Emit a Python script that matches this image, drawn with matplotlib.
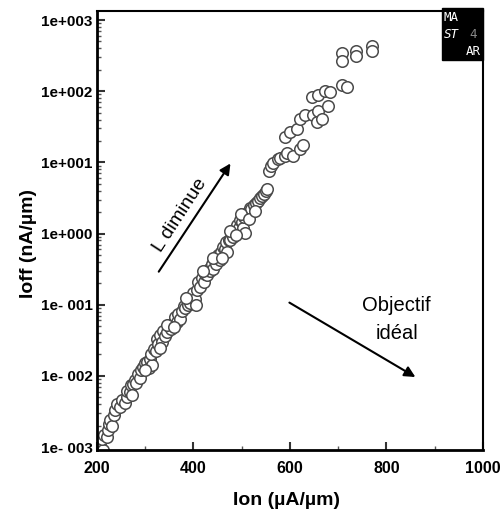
import matplotlib
matplotlib.use('Agg')
import matplotlib.pyplot as plt
import numpy as np
from matplotlib.patches import Rectangle

plt.rcParams['font.family'] = ['Liberation Sans', 'DejaVu Sans']

# Ion (uA/um) and Ioff (nA/um)
ion = [200, 205, 207, 213, 210, 215, 220, 222, 225, 228, 232, 235, 238, 242, 248,
       252, 258, 263, 262, 268, 270, 275, 278, 282, 285, 290, 292, 296, 300, 304,
       307, 310, 315, 313, 318, 322, 325, 327, 331, 334, 338, 342, 346, 350, 353,
       358, 362, 365, 368, 373, 376, 380, 383, 388, 393, 396, 400, 403, 408, 410,
       414, 418, 422, 425, 429, 432, 435, 438, 441, 445, 447, 452, 455, 458, 462,
       466, 468, 470, 473, 476, 480, 482, 486, 490, 494, 497, 500, 503, 505, 507,
       510, 513, 517, 520, 525, 530, 534, 538, 542, 546, 550, 553,
       330, 345, 360, 385, 405, 420, 440, 460, 475, 488, 498, 515, 528, 272, 300,
       557, 560, 566, 575, 580, 590, 594, 606, 621, 627, 590, 600, 615, 621, 631,
       648, 658, 656, 666, 679, 646, 658, 672, 683, 707, 718, 707, 707, 736, 736,
       770, 770]
ioff = [9.5e-4, 1.0e-3, 1.15e-3, 9.0e-4, 1.3e-3, 1.5e-3, 1.4e-3, 1.75e-3, 2.1e-3,
        2.4e-3, 2.0e-3, 2.8e-3, 3.3e-3, 4.0e-3, 3.6e-3, 4.6e-3, 4.2e-3, 5.0e-3,
        6.2e-3, 6.0e-3, 7.5e-3, 7.6e-3, 8.8e-3, 8.0e-3, 1.05e-2, 9.2e-3, 1.2e-2,
        1.35e-2, 1.5e-2, 1.58e-2, 1.3e-2, 1.75e-2, 1.43e-2, 2.0e-2, 2.4e-2, 2.2e-2,
        3.25e-2, 2.8e-2, 3.7e-2, 3.0e-2, 4.3e-2, 3.6e-2, 4.1e-2, 5.0e-2, 4.6e-2,
        5.6e-2, 6.8e-2, 5.8e-2, 7.5e-2, 6.2e-2, 8.2e-2, 9.5e-2, 8.9e-2, 0.10,
        0.105, 0.13, 0.144, 0.12, 0.16, 0.21, 0.18, 0.24, 0.21, 0.27, 0.26, 0.32,
        0.30, 0.37, 0.32, 0.42, 0.37, 0.50, 0.43, 0.55, 0.64, 0.60, 0.75, 0.55,
        0.80, 0.82, 1.0, 0.9, 1.15, 1.3, 1.2, 1.55, 1.45, 1.2, 1.7, 1.03,
        1.9, 2.0, 2.3, 2.2, 2.5, 2.7, 2.9, 3.2, 3.4, 3.6, 3.9, 4.2,
        2.5e-2, 5.2e-2, 4.8e-2, 0.125, 0.10, 0.30, 0.45, 0.45, 1.1, 0.95, 1.9, 1.6,
        2.1, 5.4e-3, 1.2e-2,
        7.5, 8.9, 9.8, 11.0, 11.5, 12.2, 13.4, 12.2, 15.2, 17.8, 22.9, 26.7, 29.5,
        40.6, 46, 47, 52, 36.8, 40.6, 61, 82, 87, 102, 96, 124, 113, 339, 263, 372,
        309, 426, 372]

xticks = [200, 400, 600, 800, 1000]
xticklabels = ['200', '400', '600', '800', '1000']
yticks = [1e-3, 1e-2, 1e-1, 1e0, 1e1, 1e2, 1e3]
yticklabels = ['1e- 003', '1e- 002', '1e- 001', '1e+000', '1e+001', '1e+002', '1e+003']

fig = plt.figure(figsize=(5.02, 5.09), dpi=100)
ax = fig.add_axes([0.193, 0.116, 0.769, 0.862])

ax.plot(ion, ioff, 'o', markersize=8.3, markerfacecolor='white',
        markeredgecolor='#4a4a4a', markeredgewidth=1.1, linestyle='none')

ax.set_yscale('log')
ax.set_xlim(200, 1000)
ax.set_ylim(9.1e-4, 1.33e3)

ax.set_xticks(xticks)
ax.set_xticklabels(xticklabels, fontsize=11.5, fontweight='bold')
ax.set_xticks([300, 500, 700, 900], minor=True)
ax.set_yticks(yticks)
ax.set_yticklabels(yticklabels, fontsize=11, fontweight='bold')
ax.yaxis.set_minor_locator(matplotlib.ticker.LogLocator(base=10, subs=np.arange(2, 10), numticks=20))
ax.yaxis.set_minor_formatter(matplotlib.ticker.NullFormatter())

ax.tick_params(which='major', direction='in', length=6, width=1.5, color='#333333', pad=3)
ax.tick_params(which='minor', direction='in', length=3, width=1, color='#555555')
ax.tick_params(axis='x', which='major', pad=8)

for side in ['left', 'bottom']:
    ax.spines[side].set_linewidth(2)
for side in ['top', 'right']:
    ax.spines[side].set_linewidth(1.5)

ax.set_xlabel('Ion (µA/µm)', fontsize=14, fontweight='bold')
ax.set_ylabel('Ioff (nA/µm)', fontsize=14, fontweight='bold')
ax.xaxis.set_label_coords(0.49, -0.095)
ax.yaxis.set_label_coords(-0.155, 0.47)

# arrows
ax.annotate('', xy=(480, 10.4), xytext=(325, 0.27),
            arrowprops=dict(arrowstyle='-|>', color='black', lw=1.5, mutation_scale=16))
ax.text(373, 1.8, 'L diminue', rotation=57, ha='center', va='center', fontsize=14)
ax.annotate('', xy=(865, 9.2e-3), xytext=(594, 0.112),
            arrowprops=dict(arrowstyle='-|>', color='black', lw=1.5, mutation_scale=16))
ax.text(821, 0.062, 'Objectif\nidéal', ha='center', va='center', fontsize=14.5,
        linespacing=1.6)

# logo box
fig.patches.append(Rectangle((0.880, 0.882), 0.082, 0.102, transform=fig.transFigure,
                             facecolor='black', edgecolor='black', zorder=5))
fig.text(0.884, 0.966, 'MA', color='white', fontsize=9, va='center', ha='left', zorder=6,
         family=['DejaVu Sans Mono'])
fig.text(0.884, 0.932, 'ST', color='white', fontsize=9, va='center', ha='left', zorder=6,
         fontstyle='italic', family=['DejaVu Sans Mono'])
fig.text(0.935, 0.932, '4', color='#888888', fontsize=9, va='center', ha='left', zorder=6,
         family=['DejaVu Sans Mono'])
fig.text(0.958, 0.898, 'AR', color='white', fontsize=9, va='center', ha='right', zorder=6,
         family=['DejaVu Sans Mono'])

plt.savefig('out.png', dpi=100)
